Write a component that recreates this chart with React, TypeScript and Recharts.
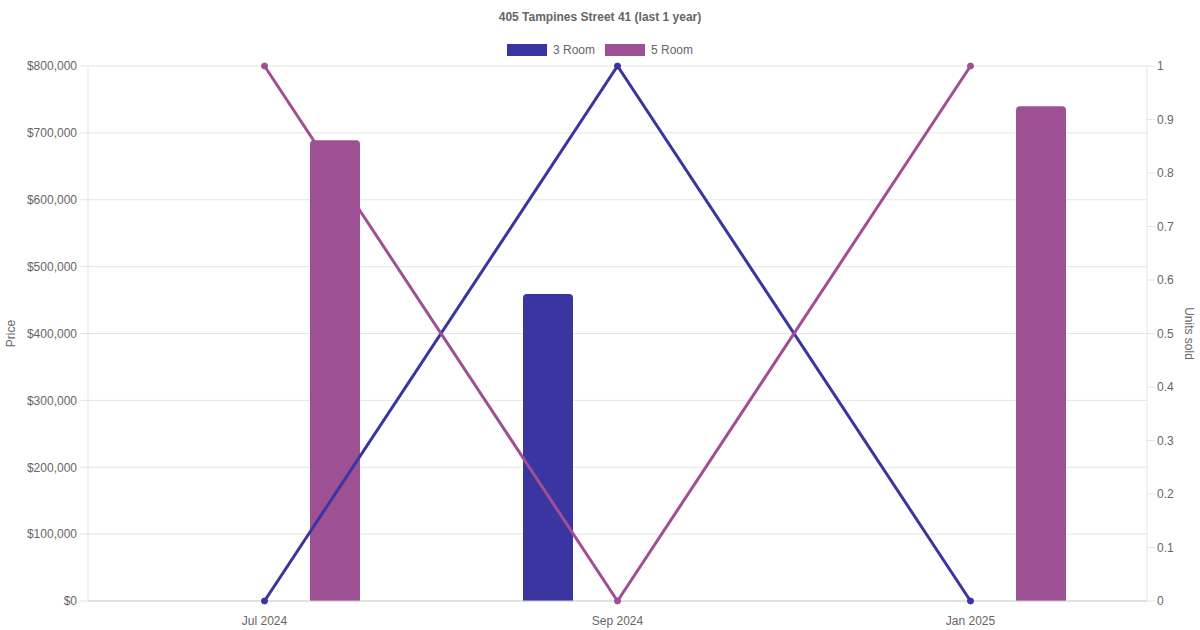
import React from 'react';
import { ComposedChart, Bar, Line, XAxis, YAxis, CartesianGrid, Label } from 'recharts';

const categories = ['Jul 2024', 'Sep 2024', 'Jan 2025'];
const price3Room: (number | null)[] = [null, 459000, null];
const price5Room: (number | null)[] = [689000, null, 740000];
const units3Room = [0, 1, 0];
const units5Room = [1, 0, 1];
const priceTicks = [0, 100000, 200000, 300000, 400000, 500000, 600000, 700000, 800000];
const unitTicks = [0, 0.1, 0.2, 0.3, 0.4, 0.5, 0.6, 0.7, 0.8, 0.9, 1];
const seriesNames = ['3 Room', '5 Room'];
const title = '405 Tampines Street 41 (last 1 year)';

const BLUE = '#3a35a0';
const PURPLE = '#9e5094';
const FONT = '"Liberation Sans", Arial, Helvetica, sans-serif';
const TEXT = '#666666';

const data = categories.map((c, i) => ({
  name: c,
  p3: price3Room[i],
  p5: price5Room[i],
  u3: units3Room[i],
  u5: units5Room[i],
}));

const fmtPrice = (v: number) => '$' + v.toLocaleString('en-US');
const fmtUnit = (v: number) => String(Math.round(v * 10) / 10);

export default function App() {
  return (
    <div style={{ position: 'absolute', left: 0, top: 0, width: 1200, height: 630, fontFamily: FONT, background: '#fff' }}>
      <div style={{ position: 'absolute', left: 0, top: 9, width: 1200, textAlign: 'center', fontSize: 12, fontWeight: 'bold', color: TEXT, lineHeight: '16px' }}>
        {title}
      </div>
      <div style={{ position: 'absolute', left: 0, top: 42, width: 1200, display: 'flex', justifyContent: 'center', fontSize: 12, color: TEXT, lineHeight: '16px' }}>
        {seriesNames.map((n, i) => (
          <div key={n} style={{ display: 'flex', alignItems: 'center', marginLeft: i === 0 ? 0 : 10 }}>
            <span style={{ display: 'inline-block', width: 40, height: 12, background: i === 0 ? BLUE : PURPLE, marginRight: 6 }} />
            <span>{n}</span>
          </div>
        ))}
      </div>
      <ComposedChart
        width={1200}
        height={630}
        data={data}
        margin={{ top: 66, right: 0, bottom: 0, left: 0 }}
        barGap={90}
        barCategoryGap="10%"
        style={{ fontFamily: FONT }}
      >
        <CartesianGrid yAxisId="left" vertical={false} stroke="#e5e5e5" />
        <XAxis
          dataKey="name"
          height={29}
          tickLine={false}
          axisLine={{ stroke: '#cfcfcf' }}
          tickSize={0}
          tickMargin={15}
          tick={{ fill: TEXT, fontSize: 12 }}
        />
        <YAxis
          yAxisId="left"
          orientation="left"
          width={88}
          domain={[0, 800000]}
          ticks={priceTicks}
          tickFormatter={fmtPrice}
          tickSize={8}
          tickMargin={3}
          tickLine={{ stroke: '#e5e5e5' }}
          axisLine={{ stroke: '#e5e5e5' }}
          tick={{ fill: TEXT, fontSize: 12 }}
          interval={0}
        >
          <Label
            content={(props: any) => {
              const vb = props.viewBox || { x: 0, y: 66, width: 88, height: 535 };
              const cx = 11;
              const cy = vb.y + vb.height / 2;
              return (
                <text x={cx} y={cy} transform={`rotate(-90 ${cx} ${cy})`} textAnchor="middle" dominantBaseline="central" fill={TEXT} fontSize={12} fontFamily={FONT}>
                  Price
                </text>
              );
            }}
          />
        </YAxis>
        <YAxis
          yAxisId="right"
          orientation="right"
          width={53}
          domain={[0, 1]}
          ticks={unitTicks}
          tickFormatter={fmtUnit}
          tickSize={8}
          tickMargin={2}
          tickLine={{ stroke: '#e5e5e5' }}
          axisLine={{ stroke: '#e5e5e5' }}
          tick={{ fill: TEXT, fontSize: 12 }}
          interval={0}
        >
          <Label
            content={(props: any) => {
              const vb = props.viewBox || { x: 1147, y: 66, width: 53, height: 535 };
              const cx = 1189;
              const cy = vb.y + vb.height / 2;
              return (
                <text x={cx} y={cy} transform={`rotate(90 ${cx} ${cy})`} textAnchor="middle" dominantBaseline="central" fill={TEXT} fontSize={12} fontFamily={FONT}>
                  Units sold
                </text>
              );
            }}
          />
        </YAxis>
        <Bar yAxisId="left" dataKey="p3" name="3 Room" fill={BLUE} barSize={50} radius={[4, 4, 0, 0]} isAnimationActive={false} />
        <Bar yAxisId="left" dataKey="p5" name="5 Room" fill={PURPLE} barSize={50} radius={[4, 4, 0, 0]} isAnimationActive={false} />
        <Line yAxisId="right" type="linear" dataKey="u3" stroke={BLUE} strokeWidth={3} dot={{ r: 3, fill: BLUE, stroke: BLUE, strokeWidth: 1 }} activeDot={false} isAnimationActive={false} />
        <Line yAxisId="right" type="linear" dataKey="u5" stroke={PURPLE} strokeWidth={3} dot={{ r: 3, fill: PURPLE, stroke: PURPLE, strokeWidth: 1 }} activeDot={false} isAnimationActive={false} />
      </ComposedChart>
    </div>
  );
}
